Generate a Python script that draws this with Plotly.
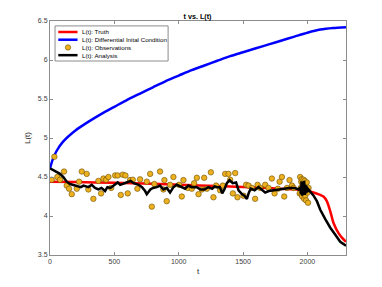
import plotly.graph_objects as go

# Truth
truth_t = [0, 200, 500, 800, 1011, 1300, 1600, 1789, 1944, 2022, 2100, 2125, 2151, 2178, 2203, 2242, 2270, 2300]
truth_L = [4.44, 4.435, 4.425, 4.415, 4.40, 4.385, 4.365, 4.35, 4.34, 4.315, 4.27, 4.25, 4.19, 4.06, 3.91, 3.78, 3.72, 3.67]

# Differential initial condition
blue_t = [0, 20, 50, 100, 200, 300, 400, 500, 600, 700, 800, 900, 1000, 1100, 1200, 1300, 1400, 1500, 1600,
          1700, 1800, 1900, 2000, 2100, 2200, 2300]
blue_L = [4.61, 4.72, 4.83, 4.95, 5.10, 5.21, 5.31, 5.40, 5.49, 5.57, 5.65, 5.73, 5.80, 5.87, 5.93, 5.99, 6.05,
          6.10, 6.15, 6.20, 6.25, 6.30, 6.35, 6.39, 6.41, 6.42]

# Observations
obs_t = [13, 34, 57, 78, 109, 130, 148, 169, 208, 226, 247, 285, 298, 337, 376, 397, 415, 436, 454, 475,
         506, 526, 550, 565, 586, 604, 622, 643, 679, 700, 752, 778, 791, 811, 855, 881, 889, 907, 933, 959,
         1003, 1024, 1037, 1071, 1102, 1120, 1141, 1154, 1180, 1198, 1219, 1250, 1270, 1291, 1322, 1343, 1361,
         1387, 1400, 1421, 1439, 1457, 1504, 1524, 1543, 1569, 1594, 1613, 1633, 1672, 1698, 1724, 1745, 1771,
         1784, 1802, 1820, 1841, 1861, 1880, 1893,
         1940, 1944, 1948, 1952, 1955, 1957, 1960, 1963, 1966, 1968, 1970, 1972, 1975, 1978, 1980, 1983, 1986,
         1990, 1995, 2000, 2005, 2009]
obs_L = [4.465, 4.76, 4.50, 4.465, 4.57, 4.39, 4.35, 4.28, 4.35, 4.44, 4.57, 4.54, 4.34, 4.22, 4.45, 4.29, 4.48, 4.465, 4.50, 4.36,
         4.52, 4.52, 4.27, 4.53, 4.52, 4.29, 4.46, 4.465, 4.35, 4.47, 4.44, 4.54, 4.12, 4.41, 4.57, 4.34, 4.46, 4.19, 4.40, 4.50,
         4.40, 4.25, 4.46, 4.36, 4.35, 4.42, 4.49, 4.28, 4.34, 4.49, 4.35, 4.56, 4.24, 4.39, 4.33, 4.39, 4.54,
         4.54, 4.465, 4.29, 4.55, 4.24, 4.26, 4.40, 4.39, 4.36, 4.22, 4.40, 4.36, 4.40, 4.36, 4.48, 4.29, 4.35,
         4.44, 4.50, 4.25, 4.36, 4.46, 4.39, 4.36,
         4.29, 4.50, 4.36, 4.44, 4.28, 4.47, 4.25, 4.40, 4.34, 4.42, 4.465, 4.31, 4.22, 4.38, 4.45, 4.26, 4.34,
         4.20, 4.43, 4.30, 4.17, 4.36]

# Analysis
ana_t = [0, 30, 78, 104, 130, 156, 180, 208, 240, 260, 298, 324, 350, 376, 400, 428, 446, 470, 506, 526, 545, 570, 595, 627,
         650, 689, 715, 739, 752, 780, 800, 830, 855, 881, 907, 933, 959, 985, 1050, 1075, 1100, 1140, 1170,
         1200, 1230, 1260, 1280, 1300, 1320, 1338, 1355, 1374, 1395, 1420, 1446, 1465, 1491, 1510, 1530, 1545, 1560,
         1590, 1620, 1645, 1672, 1700, 1740, 1780, 1820, 1860, 1900, 1931,
         1945, 1950, 1955, 1960, 1965, 1970, 1975, 1980, 1985, 1990, 1995, 2000, 2009,
         2022, 2048, 2074, 2100, 2139, 2178, 2217, 2255, 2300]
ana_L = [4.61, 4.58, 4.54, 4.50, 4.44, 4.41, 4.40, 4.39, 4.37, 4.39, 4.37, 4.40, 4.36, 4.34, 4.36, 4.32, 4.37, 4.36, 4.40, 4.43, 4.40, 4.42, 4.43, 4.45,
         4.42, 4.40, 4.37, 4.32, 4.28, 4.34, 4.36, 4.37, 4.39, 4.34, 4.36, 4.30, 4.37, 4.40, 4.35, 4.39, 4.37, 4.37, 4.34,
         4.34, 4.37, 4.35, 4.38, 4.37, 4.37, 4.29, 4.34, 4.42, 4.46, 4.42, 4.43, 4.33, 4.28, 4.26, 4.22, 4.30, 4.35,
         4.33, 4.37, 4.34, 4.30, 4.32, 4.33, 4.34, 4.35, 4.36, 4.36, 4.34,
         4.37, 4.28, 4.44, 4.26, 4.41, 4.30, 4.45, 4.27, 4.40, 4.29, 4.38, 4.31, 4.34,
         4.315, 4.26, 4.19, 4.08, 3.96, 3.85, 3.76, 3.67, 3.62]

x_ticks = [0, 500, 1000, 1500, 2000]
y_ticks = [3.5, 4, 4.5, 5, 5.5, 6, 6.5]
y_tick_text = ["3.5", "4", "4.5", "5", "5.5", "6", "6.5"]

legend_names = ["L(t): Truth", "L(t): Differential Inital Condition", "L(t): Observations", "L(t): Analysis"]

RED, BLUE, GOLD, BLACK = "#FF0000", "#0000FF", "#EDB120", "#000000"
FONT = "Liberation Sans, Arial, sans-serif"

# page has an 8px body margin, so the figure is sized to fit the window
W, H = 374, 279

fig = go.Figure()
fig.add_trace(go.Scatter(x=truth_t, y=truth_L, mode="lines", name=legend_names[0],
                         line=dict(color=RED, width=2.5, shape="spline", smoothing=0.6)))
fig.add_trace(go.Scatter(x=blue_t, y=blue_L, mode="lines", name=legend_names[1],
                         line=dict(color=BLUE, width=2.5, shape="spline", smoothing=0.6)))
fig.add_trace(go.Scatter(x=obs_t, y=obs_L, mode="markers", name=legend_names[2],
                         marker=dict(color=GOLD, size=5.5, line=dict(color="#6b4e00", width=0.6))))
fig.add_trace(go.Scatter(x=ana_t, y=ana_L, mode="lines", name=legend_names[3],
                         line=dict(color=BLACK, width=2.5)))

axis_common = dict(showline=True, linecolor="#8c8c8c", linewidth=1, mirror="ticks",
                   ticks="inside", ticklen=3, tickcolor="#8c8c8c", showgrid=False, zeroline=False,
                   automargin=False,
                   tickfont=dict(size=7, color="#404040", family=FONT))

# Compact MATLAB-style legend drawn in paper coordinates
shapes = [dict(type="rect", xref="paper", yref="paper", x0=0.017, x1=0.399, y0=0.829, y1=0.979,
               line=dict(color="#8c8c8c", width=1), fillcolor="white", layer="above")]
annotations = []
rows_y = [0.953, 0.920, 0.887, 0.854]
styles = [("line", RED), ("line", BLUE), ("marker", GOLD), ("line", BLACK)]
for name, yy, (kind, col) in zip(legend_names, rows_y, styles):
    if kind == "line":
        shapes.append(dict(type="line", xref="paper", yref="paper", x0=0.028, x1=0.093, y0=yy, y1=yy,
                           line=dict(color=col, width=2.5), layer="above"))
    else:
        shapes.append(dict(type="circle", xref="paper", yref="paper", x0=0.0518, x1=0.0700,
                           y0=yy - 0.0115, y1=yy + 0.0115, fillcolor=col,
                           line=dict(color="#6b4e00", width=0.6), layer="above"))
    annotations.append(dict(text=name, xref="paper", yref="paper", x=0.101, y=yy, xanchor="left",
                            yanchor="middle", showarrow=False, font=dict(size=6.2, color="#000000", family=FONT)))

fig.update_layout(
    width=W, height=H,
    margin=dict(l=42, r=36, t=13, b=32),
    paper_bgcolor="white", plot_bgcolor="white",
    font=dict(family=FONT, size=7, color="#262626"),
    title=dict(text="<b>t vs. L(t)</b>", x=189.5 / W, xanchor="center", y=1 - 8 / H, yanchor="middle",
               xref="container", yref="container", font=dict(size=7.2, color="#000000", family=FONT)),
    xaxis=dict(range=[0, 2300], tickvals=x_ticks,
               title=dict(text="t", font=dict(size=8, color="#262626"), standoff=3), **axis_common),
    yaxis=dict(range=[3.5, 6.5], tickvals=y_ticks, ticktext=y_tick_text,
               title=dict(text="L(t)", font=dict(size=8, color="#262626"), standoff=6), **axis_common),
    shapes=shapes,
    annotations=annotations,
    showlegend=False,
)

fig.write_html("out.html")
